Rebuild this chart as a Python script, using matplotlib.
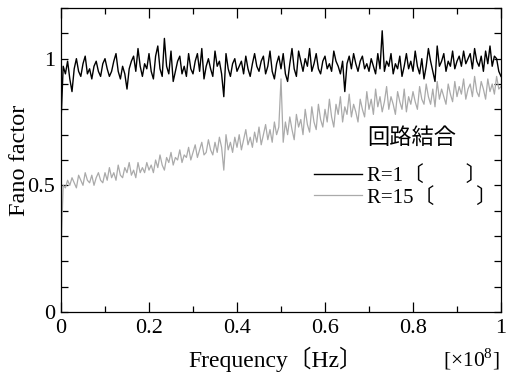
import numpy as np
import matplotlib
matplotlib.use("Agg")
import matplotlib.pyplot as plt
from matplotlib.ticker import MultipleLocator, FixedLocator

plt.rcParams['font.family'] = ['Liberation Serif', 'Noto Sans CJK JP']
plt.rcParams['mathtext.fontset'] = 'custom'
plt.rcParams['mathtext.rm'] = 'Liberation Serif'

freq_step = 0.005  # x in units of 1e8 Hz

fano_r1 = [
    0.75, 0.97, 0.94, 0.99, 0.92, 0.87, 0.96, 1.00, 0.95, 0.93, 0.98, 1.01, 0.94, 0.96, 0.92, 0.97, 0.99, 0.95, 0.93, 0.98,
    1.00, 0.96, 0.93, 0.95, 0.99, 1.02, 0.95, 0.92, 0.97, 0.94, 0.88, 0.96, 0.99, 1.01, 0.95, 1.04, 0.97, 0.93, 0.98, 0.96,
    1.02, 0.95, 0.92, 1.01, 1.05, 0.96, 0.93, 1.08, 0.97, 0.94, 1.03, 0.91, 0.95, 0.99, 1.01, 0.94, 0.97, 0.93, 1.02, 0.96,
    0.94, 0.99, 1.02, 0.95, 1.04, 0.92, 0.97, 1.00, 0.96, 0.93, 1.03, 0.97, 0.99, 0.94, 0.85, 1.02, 0.96, 0.93, 0.98, 1.00,
    0.95, 0.97, 0.99, 0.94, 1.01, 0.96, 0.93, 0.98, 1.02, 0.97, 0.95, 0.99, 1.01, 0.94, 0.97, 1.03, 0.95, 0.92, 0.98, 1.01,
    0.96, 1.02, 0.94, 0.91, 0.98, 1.04, 0.96, 0.93, 1.03, 0.99, 0.95, 1.00, 0.97, 1.04, 0.95, 0.98, 1.02, 0.96, 0.94, 0.99,
    1.01, 0.96, 0.98, 0.95, 1.03, 0.99, 0.97, 0.94, 0.99, 0.87, 0.98, 1.01, 0.96, 1.02, 0.98, 0.95, 0.99, 1.01, 0.96, 0.98,
    0.95, 1.00, 0.97, 0.94, 1.02, 0.96, 1.11, 0.95, 0.99, 0.97, 1.02, 0.94, 0.98, 0.96, 1.01, 0.93, 0.97, 1.02, 0.96, 0.99,
    0.95, 1.03, 0.97, 0.94, 1.00, 0.92, 0.97, 1.04, 0.99, 0.95, 0.91, 1.05, 0.97, 0.99, 1.02, 0.95, 0.99, 0.97, 1.03, 0.96,
    0.99, 1.01, 0.97, 1.03, 0.98, 1.00, 1.02, 0.96, 1.04, 0.99, 0.97, 1.01, 0.95, 1.03, 0.98, 1.05, 0.97, 1.01, 1.00, 0.95,
    0.93,
]

fano_r15 = [
    0.24, 0.50, 0.49, 0.52, 0.50, 0.53, 0.51, 0.49, 0.54, 0.52, 0.50, 0.55, 0.52, 0.51, 0.54, 0.50, 0.53, 0.55, 0.52, 0.51,
    0.55, 0.52, 0.57, 0.53, 0.55, 0.52, 0.58, 0.54, 0.53, 0.57, 0.55, 0.59, 0.54, 0.56, 0.53, 0.59, 0.55, 0.57, 0.55, 0.59,
    0.56, 0.58, 0.55, 0.60, 0.57, 0.62, 0.58, 0.56, 0.61, 0.59, 0.63, 0.58, 0.61, 0.60, 0.64, 0.59, 0.62, 0.61, 0.65, 0.60,
    0.63, 0.66, 0.61, 0.64, 0.67, 0.62, 0.63, 0.68, 0.64, 0.62, 0.67, 0.63, 0.69, 0.65, 0.56, 0.70, 0.64, 0.67, 0.63, 0.69,
    0.65, 0.70, 0.64, 0.68, 0.72, 0.66, 0.69, 0.65, 0.71, 0.67, 0.73, 0.66, 0.70, 0.74, 0.68, 0.72, 0.67, 0.75, 0.70, 0.73,
    0.92, 0.67, 0.75, 0.70, 0.77, 0.72, 0.68, 0.78, 0.73, 0.76, 0.70, 0.80, 0.74, 0.71, 0.81, 0.75, 0.72, 0.82, 0.76, 0.73,
    0.80, 0.75, 0.84, 0.77, 0.73, 0.82, 0.78, 0.85, 0.75, 0.81, 0.78, 0.86, 0.77, 0.82, 0.79, 0.75, 0.84, 0.80, 0.77, 0.87,
    0.80, 0.84, 0.78, 0.88, 0.81, 0.85, 0.79, 0.83, 0.89, 0.80, 0.85, 0.82, 0.78, 0.87, 0.83, 0.80, 0.88, 0.79, 0.85, 0.82,
    0.87, 0.83, 0.80, 0.89, 0.84, 0.82, 0.90, 0.85, 0.82, 0.88, 0.81, 0.91, 0.84, 0.88, 0.85, 0.82, 0.90, 0.86, 0.83, 0.91,
    0.85, 0.89, 0.86, 0.92, 0.84, 0.88, 0.90, 0.85, 0.93, 0.87, 0.85, 0.91, 0.88, 0.84, 0.92, 0.87, 0.90, 0.86, 0.93, 0.88,
    0.89,
]

x_ticks = [0, 0.2, 0.4, 0.6, 0.8, 1]
x_tick_labels = ['0', '0.2', '0.4', '0.6', '0.8', '1']
y_ticks = [0, 0.5, 1]
y_tick_labels = ['0', '0.5', '1']
series_labels = ['R=1〔　　〕', 'R=15〔　　〕']
legend_title = '回路結合'

freq = np.arange(len(fano_r1)) * freq_step

fig = plt.figure(figsize=(5.07, 3.74), dpi=100)
ax = fig.add_axes([61/507, 62/374, 440/507, 304/374])

l1, = ax.plot(freq, fano_r1, color='black', lw=1.0)
l2, = ax.plot(freq, fano_r15, color='#aaaaaa', lw=0.9)

ax.set_xlim(0, 1)
ax.set_ylim(0, 1.2)
ax.xaxis.set_major_locator(FixedLocator(x_ticks))
ax.set_xticklabels(x_tick_labels)
ax.xaxis.set_minor_locator(MultipleLocator(0.1))
ax.yaxis.set_major_locator(FixedLocator(y_ticks))
ax.set_yticklabels(y_tick_labels)
ax.yaxis.set_minor_locator(MultipleLocator(0.1))
ax.tick_params(which='both', direction='in', top=True, right=True, labelsize=16, width=0.9)
ax.tick_params(axis='x', which='major', length=7, pad=5)
ax.tick_params(axis='x', which='minor', length=4)
ax.tick_params(axis='y', which='both', length=5, pad=4)
for s in ax.spines.values():
    s.set_linewidth(0.9)

ax.set_ylabel('Fano factor', fontsize=17.5, va='center', ha='center')
ax.yaxis.set_label_coords(-0.094, 0.5)
ax.set_xlabel('Frequency〔Hz〕', fontsize=17)
ax.xaxis.set_label_coords(0.489, -0.115)
ax.text(0.997, -0.18, r'[$\times$10$^{8}$]', transform=ax.transAxes, ha='right', va='baseline', fontsize=15.5)

ax.text(0.695, 0.575, legend_title, transform=ax.transAxes, fontsize=16,
        family=['Noto Sans CJK JP'], ha='left', va='center')
ax.legend([l1, l2], series_labels, loc='upper left', bbox_to_anchor=(0.552, 0.514),
          frameon=False, fontsize=15, handlelength=2.3, handletextpad=0.25,
          labelspacing=0.08, borderpad=0)

fig.savefig('out.png', dpi=100)
